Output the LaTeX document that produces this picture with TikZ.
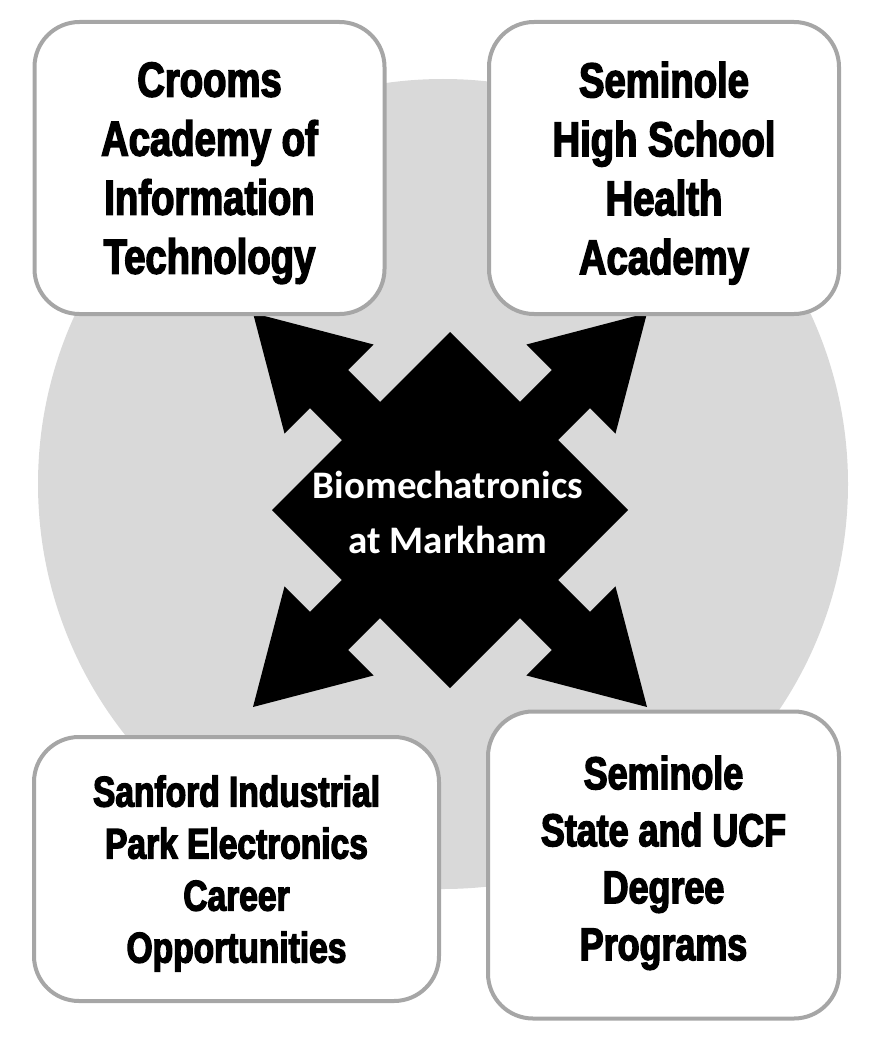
\documentclass[tikz,border=0pt]{standalone}
\usepackage{fontspec}
\usepackage{tikz}
\usetikzlibrary{calc}
\newfontfamily\boxfont{Liberation Sans Bold}[FakeStretch=0.78,FakeBold=3]
\newfontfamily\hubfont{Carlito Bold}
\definecolor{discgray}{HTML}{D9D9D9}
\definecolor{edgegray}{HTML}{A6A6A6}

\begin{document}
\begin{tikzpicture}[x=1pt,y=-1pt]
    \useasboundingbox (0,0) rectangle (878,1038);
    \fill[discgray] (443,484) circle (405pt);

    % four-way arrow round the centre
    \begin{scope}[shift={(450,510)}]
        \fill (178,0) -- (0,178) -- (-178,0) -- (0,-178) -- cycle;
        \foreach \a in {45,135,225,315}{
            \fill[rotate=\a] (0,-27) -- (171,-27) -- (171,-63) -- (278.6,0)
                -- (171,63) -- (171,27) -- (0,27) -- cycle;
        }
    \end{scope}
    \node[text=white,align=center,font=\hubfont\fontsize{39}{55}\selectfont] (hub) at (448,512) {Biomechatronics\\at Markham};

    \begin{scope}[every node/.style={draw=edgegray,line width=4pt,fill=white,
            rounded corners=45pt,align=center,inner sep=0pt,text depth=0pt}]
        \node[minimum width=350,minimum height=292,font=\boxfont\fontsize{49}{59}\selectfont]
            (crooms) at (209.5,168) {Crooms\\Academy of\\Information\\Technology};
        \node[minimum width=350,minimum height=292,font=\boxfont\fontsize{49}{59}\selectfont]
            (health) at (664,168) {Seminole\\High School\\Health\\Academy};
        \node[minimum width=405,minimum height=264,font=\boxfont\fontsize{43}{52}\selectfont]
            (sanford) at (236.5,869) {Sanford Industrial\\Park Electronics\\Career\\Opportunities};
        \node[minimum width=351,minimum height=307,text depth=14pt,font=\boxfont\fontsize{46}{57}\selectfont]
            (ucf) at (663.5,865) {Seminole\\State and UCF\\Degree\\Programs};
    \end{scope}
\end{tikzpicture}
\end{document}
